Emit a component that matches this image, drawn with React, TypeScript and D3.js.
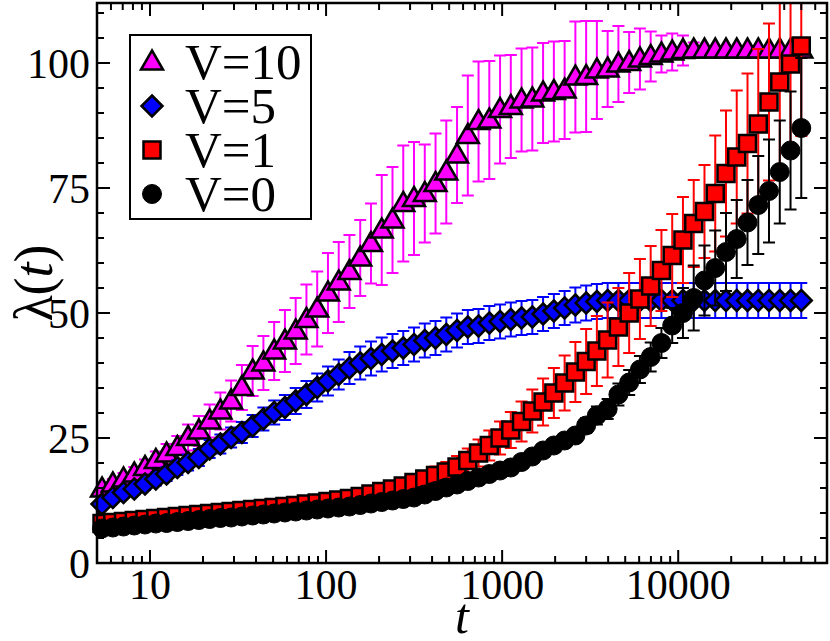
import * as d3 from "d3";
import { useEffect, useRef } from "react";

const tValues = [
  5.34, 6.15, 7.07, 8.14, 9.37, 10.79, 12.42, 14.3, 16.46, 18.94, 21.81, 25.1, 28.89, 33.26, 38.28, 44.06,
  50.72, 58.39, 67.21, 77.36, 89.05, 102.5, 118.0, 135.8, 156.3, 179.9, 207.1, 238.4, 274.4, 315.8, 363.6,
  418.5, 481.7, 554.5, 638.3, 734.5, 845.6, 973.2, 1120, 1289, 1484, 1708, 1967, 2264, 2606, 3000, 3452,
  3974, 4575, 5266, 6062, 6977, 8031, 9245, 10640, 12250, 14100, 16230, 18680, 21500, 24750, 28490, 32790,
  37750, 43450, 50000,
];

const v10 = [
  14.8, 15.8, 16.8, 17.8, 19.1, 20.5, 21.8, 23.1, 25.1, 26.4, 28.4, 30.4, 32.4, 35.1, 38.4, 40.0, 42.4, 44.4,
  46.4, 48.7, 50.8, 54.0, 56.2, 58.3, 61.0, 63.9, 66.6, 68.6, 71.9, 72.9, 73.9, 75.9, 78.2, 81.6, 85.5, 88.3,
  88.6, 90.7, 91.3, 92.6, 92.8, 94.0, 94.3, 94.6, 97.2, 97.3, 98.6, 98.8, 99.8, 100.1, 100.8, 101.3, 101.8,
  102.2, 102.5, 102.6, 102.6, 102.6, 102.6, 102.6, 102.6, 102.6, 102.6, 102.6, 102.6, 102.6,
];
const v10Err = [
  0.8, 1.0, 1.2, 1.4, 1.6, 1.8, 2.0, 2.3, 2.6, 3.0, 3.3, 3.7, 4.1, 4.5, 5.0, 5.4, 5.8, 6.2, 6.6, 7.0, 7.5, 8.0,
  8.0, 7.3, 7.6, 8.0, 11.0, 10.6, 11.6, 11.3, 9.8, 10.0, 10.3, 9.6, 12.0, 12.0, 11.8, 10.8, 10.3, 10.3, 10.3,
  10.0, 10.0, 9.8, 11.1, 11.1, 9.8, 7.6, 7.6, 6.1, 6.1, 5.0, 3.7, 3.7, 3.0, 1.5, 0.5, 0, 0, 0, 0, 0, 0, 0, 0, 0,
];

const v5 = [
  11.8, 13.1, 14.1, 14.8, 15.8, 16.8, 17.8, 19.1, 20.1, 21.1, 22.8, 23.8, 25.1, 26.1, 27.4, 28.8, 30.1, 31.1,
  32.4, 33.7, 35.1, 36.4, 37.7, 39.0, 40.0, 40.9, 41.7, 42.4, 43.0, 43.7, 44.5, 45.0, 45.7, 46.5, 47.2, 47.4,
  48.0, 48.3, 48.7, 49.0, 49.2, 49.8, 50.4, 51.0, 51.6, 52.0, 52.3, 52.5, 52.5, 52.5, 52.5, 52.5, 52.5, 52.5,
  52.5, 52.5, 52.5, 52.5, 52.5, 52.5, 52.5, 52.5, 52.5, 52.5, 52.5, 52.5,
];
const v5Err = [
  0.8, 0.9, 1.0, 1.1, 1.2, 1.3, 1.4, 1.5, 1.6, 1.7, 1.8, 1.9, 2.0, 2.1, 2.2, 2.3, 2.4, 2.5, 2.6, 2.7, 2.8, 2.9,
  3.0, 3.2, 3.3, 3.4, 3.4, 3.4, 3.4, 3.4, 3.4, 3.4, 3.4, 3.4, 3.4, 3.4, 3.4, 3.4, 3.4, 3.4, 3.4, 3.4, 3.4, 3.4,
  3.5, 3.5, 3.5, 3.5, 3.5, 3.5, 3.5, 3.5, 3.5, 3.5, 3.5, 3.5, 3.5, 3.5, 3.5, 3.5, 3.5, 3.5, 3.5, 3.5, 3.5, 3.5,
];

const v1 = [
  7.9, 8.1, 8.3, 8.5, 8.7, 8.9, 9.1, 9.3, 9.5, 9.7, 9.9, 10.1, 10.3, 10.5, 10.7, 10.9, 11.1, 11.3, 11.5, 11.8,
  12.0, 12.3, 12.6, 12.9, 13.3, 13.8, 14.3, 14.8, 15.4, 16.1, 16.8, 17.5, 18.2, 19.2, 20.5, 22.0, 23.5, 25.0,
  26.6, 28.3, 30.4, 32.2, 34.0, 36.0, 38.2, 40.3, 42.4, 44.6, 47.2, 50.0, 52.8, 55.4, 58.5, 61.5, 64.6, 67.9,
  70.3, 73.9, 77.9, 81.2, 83.9, 87.8, 92.2, 96.2, 99.8, 103.4,
];
const v1Err = [
  0.3, 0.3, 0.3, 0.3, 0.3, 0.35, 0.35, 0.35, 0.4, 0.4, 0.4, 0.4, 0.45, 0.45, 0.45, 0.5, 0.5, 0.5, 0.55, 0.55,
  0.6, 0.7, 0.75, 0.8, 0.9, 1.0, 1.1, 1.2, 1.3, 1.45, 1.6, 1.8, 2.0, 2.2, 2.4, 2.7, 3.0, 3.3, 3.6, 4.0, 4.3,
  4.7, 5.0, 5.5, 6.0, 6.5, 7.0, 7.5, 7.8, 8.0, 8.0, 8.0, 8.1, 8.3, 8.6, 8.7, 9.3, 11.6, 12.6, 13.3, 14.0, 15.0,
  15.7, 17.0, 18.0, 18.0,
];

const v0 = [
  6.9, 7.1, 7.3, 7.5, 7.7, 7.9, 8.0, 8.2, 8.4, 8.6, 8.8, 9.0, 9.1, 9.3, 9.5, 9.7, 9.9, 10.1, 10.3, 10.5, 10.7,
  10.9, 11.1, 11.3, 11.6, 11.9, 12.2, 12.5, 12.8, 13.1, 13.7, 14.4, 15.1, 15.7, 16.4, 17.1, 17.8, 18.5, 19.1,
  20.2, 21.3, 22.5, 23.5, 24.5, 25.5, 27.5, 29.5, 30.8, 33.7, 36.1, 38.7, 41.2, 44.0, 47.5, 50.0, 53.0, 56.5,
  59.0, 62.2, 64.8, 68.1, 71.6, 74.4, 78.2, 82.5, 87.0,
];
const v0Err = [
  0.3, 0.3, 0.3, 0.3, 0.3, 0.3, 0.3, 0.3, 0.35, 0.35, 0.35, 0.35, 0.35, 0.4, 0.4, 0.4, 0.4, 0.4, 0.45, 0.45,
  0.45, 0.45, 0.5, 0.5, 0.5, 0.5, 0.55, 0.55, 0.55, 0.6, 0.6, 0.6, 0.65, 0.65, 0.7, 0.7, 0.7, 0.75, 0.75, 0.8,
  0.8, 0.9, 1.0, 1.1, 1.3, 1.5, 1.8, 2.0, 2.2, 2.5, 2.7, 2.9, 3.0, 3.5, 5.0, 6.5, 7.0, 7.5, 7.8, 7.8, 8.5, 9.8,
  10.3, 10.3, 11.8, 14.0,
];

const seriesNames = ["V=10", "V=5", "V=1", "V=0"];
const xTickValues = [10, 100, 1000, 10000];
const yTickValues = [0, 25, 50, 75, 100];

const seriesData = [
  { name: seriesNames[0], values: v10, errors: v10Err, color: "#ff00ff", shape: "triangle" },
  { name: seriesNames[1], values: v5, errors: v5Err, color: "#0000ff", shape: "diamond" },
  { name: seriesNames[2], values: v1, errors: v1Err, color: "#ff0000", shape: "square" },
  { name: seriesNames[3], values: v0, errors: v0Err, color: "#000000", shape: "circle" },
];

const FONT = "'Liberation Serif', 'Times New Roman', serif";

function markerPath(shape: string) {
  if (shape === "triangle") return "M0,-11.5L11,7.5L-11,7.5Z";
  if (shape === "diamond") return "M0,-10.5L10.5,0L0,10.5L-10.5,0Z";
  if (shape === "square") return "M-8.5,-8.5L8.5,-8.5L8.5,8.5L-8.5,8.5Z";
  return "M9.5,0A9.5,9.5 0 1,1 -9.5,0A9.5,9.5 0 1,1 9.5,0Z";
}

export default function App() {
  const ref = useRef<SVGSVGElement>(null);

  useEffect(() => {
    if (!ref.current) return;
    const el = ref.current;
    d3.select(el).selectAll("*").remove();

    const W = 830;
    const H = 641;
    const left = 97,
      right = 827,
      top = 3,
      bottom = 563;

    const svg = d3.select(el).attr("viewBox", `0 0 ${W} ${H}`);

    const x = d3.scaleLog().domain([5, 70000]).range([left, right]);
    const y = d3.scaleLinear().domain([0, 112]).range([bottom, top]);

    svg.append("defs")
      .append("clipPath")
      .attr("id", "plotclip")
      .append("rect")
      .attr("x", 0)
      .attr("y", top)
      .attr("width", W)
      .attr("height", H - top);

    const data = svg.append("g").attr("clip-path", "url(#plotclip)");

    seriesData.forEach(s => {
      const pts = tValues.map((t, i) => ({ t, v: s.values[i], e: s.errors[i] }));
      const eb = data.append("g").attr("stroke", s.color).attr("stroke-width", 2).attr("fill", "none");
      pts
        .filter(p => p.e > 0.9)
        .forEach(p => {
          const cx = x(p.t);
          const y1 = y(p.v + p.e);
          const y2 = y(p.v - p.e);
          eb.append("line").attr("x1", cx).attr("x2", cx).attr("y1", y1).attr("y2", y2);
          eb.append("line").attr("x1", cx - 6).attr("x2", cx + 6).attr("y1", y1).attr("y2", y1);
          eb.append("line").attr("x1", cx - 6).attr("x2", cx + 6).attr("y1", y2).attr("y2", y2);
        });

      data.append("g")
        .selectAll("path")
        .data(pts)
        .join("path")
        .attr("d", markerPath(s.shape))
        .attr("transform", p => `translate(${x(p.t)},${y(p.v)})`)
        .attr("fill", s.color)
        .attr("stroke", "#000")
        .attr("stroke-width", s.shape === "circle" ? 1 : 2.5)
        .attr("stroke-linejoin", "miter");
    });

    // frame and ticks
    const axis = svg.append("g").attr("stroke", "#000").attr("fill", "none");
    axis.append("rect")
      .attr("x", left)
      .attr("y", top)
      .attr("width", right - left)
      .attr("height", bottom - top)
      .attr("stroke-width", 2.5);

    const xMinor: number[] = [];
    [1, 10, 100, 1000, 10000].forEach(dec => {
      for (let m = 2; m <= 9; m++) {
        const v = m * dec;
        if (v > 5 && v < 70000) xMinor.push(v);
      }
    });
    const yMinor = d3.range(5, 112, 5).filter(v => v % 25 !== 0);

    const tickG = axis.append("g").attr("stroke-width", 2);
    const xt = [...xTickValues.map(v => ({ v, len: 13 })), ...xMinor.map(v => ({ v, len: 7 }))];
    xt.forEach(({ v, len }) => {
      const px = x(v);
      tickG.append("line").attr("x1", px).attr("x2", px).attr("y1", bottom).attr("y2", bottom - len);
      tickG.append("line").attr("x1", px).attr("x2", px).attr("y1", top).attr("y2", top + len);
    });
    const yt = [...yTickValues.filter(v => v > 0).map(v => ({ v, len: 13 })), ...yMinor.map(v => ({ v, len: 7 }))];
    yt.forEach(({ v, len }) => {
      const py = y(v);
      tickG.append("line").attr("x1", left).attr("x2", left + len).attr("y1", py).attr("y2", py);
      tickG.append("line").attr("x1", right).attr("x2", right - len).attr("y1", py).attr("y2", py);
    });

    // tick labels
    svg.append("g")
      .selectAll("text")
      .data(xTickValues)
      .join("text")
      .attr("x", d => x(d))
      .attr("y", 599)
      .attr("text-anchor", "middle")
      .attr("font-family", FONT)
      .attr("font-size", 42)
      .text(d => String(d));

    svg.append("g")
      .selectAll("text")
      .data(yTickValues)
      .join("text")
      .attr("x", 90)
      .attr("y", d => y(d) + 15)
      .attr("text-anchor", "end")
      .attr("font-family", FONT)
      .attr("font-size", 42)
      .text(d => String(d));

    // axis titles
    svg.append("text")
      .attr("x", (left + right) / 2)
      .attr("y", 633)
      .attr("text-anchor", "middle")
      .attr("font-family", FONT)
      .attr("font-style", "italic")
      .attr("font-size", 50)
      .text("t");

    const yl = svg.append("text")
      .attr("transform", `translate(52,${(top + bottom) / 2}) rotate(-90)`)
      .attr("text-anchor", "middle")
      .attr("font-family", FONT)
      .attr("font-size", 54);
    yl.append("tspan").text("λ(");
    yl.append("tspan").attr("font-style", "italic").text("t");
    yl.append("tspan").text(")");

    // legend
    const lg = svg.append("g");
    lg.append("rect")
      .attr("x", 130)
      .attr("y", 35)
      .attr("width", 181)
      .attr("height", 184)
      .attr("fill", "#fff")
      .attr("stroke", "#000")
      .attr("stroke-width", 2);
    seriesData.forEach((s, i) => {
      const cy = 62 + i * 44;
      lg.append("path")
        .attr("d", markerPath(s.shape))
        .attr("transform", `translate(152,${cy})`)
        .attr("fill", s.color)
        .attr("stroke", "#000")
        .attr("stroke-width", s.shape === "circle" ? 1 : 2.5);
      lg.append("text")
        .attr("x", 185)
        .attr("y", cy + 16.5)
        .attr("font-family", FONT)
        .attr("font-size", 51)
        .text(s.name);
    });
  }, []);

  return (
    <svg
      ref={ref}
      width={830}
      height={641}
      style={{ position: "absolute", left: 0, top: 0, display: "block", background: "#fff" }}
    />
  );
}
